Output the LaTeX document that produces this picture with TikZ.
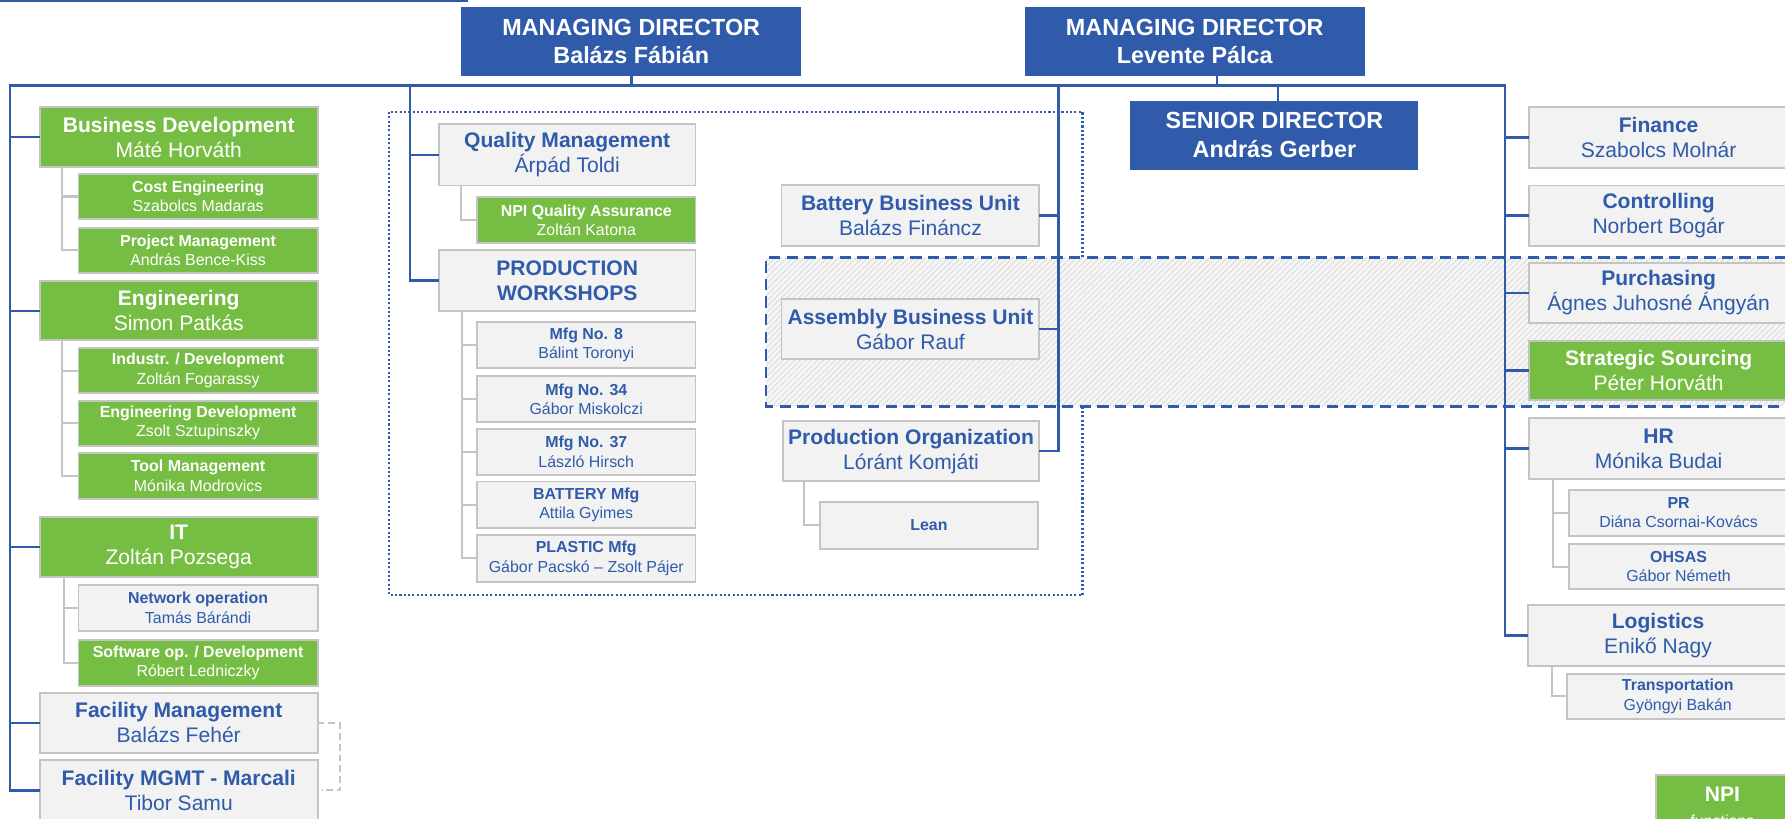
\documentclass[tikz,border=0pt]{standalone}
\usepackage{fontspec}
\setmainfont{Liberation Sans}
\usetikzlibrary{patterns.meta}
\definecolor{nblue}{RGB}{47,91,170}
\definecolor{ngreen}{RGB}{118,189,67}
\definecolor{bgray}{RGB}{242,242,242}
\definecolor{lgray}{RGB}{196,196,196}
\definecolor{hatchbg}{RGB}{246,246,246}
\definecolor{hatchln}{RGB}{220,220,220}
\tikzset{
  every node/.style={inner sep=0pt, outer sep=0pt, align=center},
  bigf/.style={font=\fontsize{18.5}{22}\selectfont},
  smallf/.style={font=\fontsize{14}{17}\selectfont},
  gbox/.style={draw=lgray, line width=1.6pt, fill=ngreen, text=white},
  wbox/.style={draw=lgray, line width=1.6pt, fill=bgray, text=nblue},
  dbox/.style={fill=nblue, text=white, font=\fontsize{20.5}{25}\selectfont\bfseries},
  trunk/.style={draw=nblue, line width=2.2pt},
  twig/.style={draw=lgray, line width=1.8pt},
  bracket/.style={draw=lgray, line width=1.8pt, dash pattern=on 6pt off 3.5pt},
  dotbox/.style={draw=nblue, line width=2pt, dash pattern=on 1.8pt off 2pt},
  dashbox/.style={draw=nblue, line width=2.2pt, dash pattern=on 10pt off 5.5pt},
}
\newcommand\bx[7]{%
  \node[#2, minimum width={#5-#3}, minimum height={#6-#4}] (#1) at ({(#3+#5)/2},{(#4+#6)/2}) {#7};}
\begin{document}
\begin{tikzpicture}[x=1pt,y=-1pt]
\useasboundingbox (0,0) rectangle (1568,719);
\clip (0,0) rectangle (1568,719);
% background frames
\draw[nblue, line width=1.5pt] (0,0.8) -- (410.8,0.8);
\draw[dotbox] (342,98.4) rectangle (951,522.7);
\fill[hatchbg] (673,226.4) rectangle (1600,357);
\fill[pattern={Lines[angle=45,distance=3.6pt,line width=0.8pt]}, pattern color=hatchln] (673,226.4) rectangle (1600,357);
\draw[dashbox] (1600,226.4) -- (673,226.4) -- (673,357) -- (1600,357);
% directors
\bx{md1}{dbox}{405}{6.5}{704}{66.8}{MANAGING DIRECTOR\\Balázs Fábián}
\bx{md2}{dbox}{900}{6.5}{1199}{66.8}{MANAGING DIRECTOR\\Levente Pálca}
\bx{sd}{dbox}{993}{88.5}{1246}{149}{SENIOR DIRECTOR\\András Gerber}
% left column
\bx{bd}{gbox,bigf}{35}{94}{279}{147}{\textbf{Business Development}\\Máté Horváth}
\bx{ce}{gbox,smallf}{69}{152.6}{279}{192.6}{\textbf{Cost Engineering}\\Szabolcs Madaras}
\bx{pm}{gbox,smallf}{69}{200}{279}{240}{\textbf{Project Management}\\András Bence-Kiss}
\bx{eng}{gbox,bigf}{35}{247}{279}{299}{\textbf{Engineering}\\Simon Patkás}
\bx{ind}{gbox,smallf}{69}{306}{279}{345}{\textbf{Industr. / Development}\\Zoltán Fogarassy}
\bx{ed}{gbox,smallf}{69}{352}{279}{391.5}{\textbf{Engineering Development}\\Zsolt Sztupinszky}
\bx{tm}{gbox,smallf}{69}{398}{279}{438}{\textbf{Tool Management}\\Mónika Modrovics}
\bx{it}{gbox,bigf}{35}{454}{279}{507}{\textbf{IT}\\Zoltán Pozsega}
\bx{no}{wbox,smallf}{69}{514}{279}{554}{\textbf{Network operation}\\Tamás Bárándi}
\bx{so}{gbox,smallf}{69}{562}{279}{602.5}{\textbf{Software op. / Development}\\Róbert Ledniczky}
\bx{fm}{wbox,bigf}{35}{608.5}{279}{661.6}{\textbf{Facility Management}\\Balázs Fehér}
\bx{fmm}{wbox,bigf}{35}{667.6}{279}{721}{\textbf{Facility MGMT - Marcali}\\Tibor Samu}
% middle
\bx{qm}{wbox,bigf}{385.5}{109}{611}{163}{\textbf{Quality Management}\\Árpád Toldi}
\bx{npiqa}{gbox,smallf}{419}{173}{611}{213.6}{\textbf{NPI Quality Assurance}\\Zoltán Katona}
\bx{pw}{wbox,bigf}{385.5}{219.8}{611}{273}{\textbf{PRODUCTION}\\\textbf{WORKSHOPS}}
\bx{m8}{wbox,smallf}{419}{283}{611}{323}{\textbf{Mfg No. 8}\\Bálint Toronyi}
\bx{m34}{wbox,smallf}{419}{330.5}{611}{371}{\textbf{Mfg No. 34}\\Gábor Miskolczi}
\bx{m37}{wbox,smallf}{419}{377}{611}{417}{\textbf{Mfg No. 37}\\László Hirsch}
\bx{bat}{wbox,smallf}{419}{423}{611}{463.5}{\textbf{BATTERY Mfg}\\Attila Gyimes}
\bx{pla}{wbox,smallf}{419}{470}{611}{511}{\textbf{PLASTIC Mfg}\\Gábor Pacskó – Zsolt Pájer}
\bx{bbu}{wbox,bigf}{686.5}{162.5}{913}{216}{\textbf{Battery Business Unit}\\Balázs Fináncz}
\bx{abu}{wbox,bigf}{686.5}{262.7}{913}{315.4}{\textbf{Assembly Business Unit}\\Gábor Rauf}
\bx{po}{wbox,bigf}{687.5}{370}{913}{422.5}{\textbf{Production Organization}\\Lóránt Komjáti}
\bx{lean}{wbox,smallf}{720}{441}{912}{482}{\textbf{Lean}}
% right column
\bx{fin}{wbox,bigf}{1343}{94}{1571}{147.5}{\textbf{Finance}\\Szabolcs Molnár}
\bx{ctl}{wbox,bigf}{1343}{163}{1571}{216}{\textbf{Controlling}\\Norbert Bogár}
\bx{pur}{wbox,bigf}{1343}{231}{1571}{283.7}{\textbf{Purchasing}\\Ágnes Juhosné Ángyán}
\bx{ss}{gbox,bigf}{1343}{299.5}{1571}{351.4}{\textbf{Strategic Sourcing}\\Péter Horváth}
\bx{hr}{wbox,bigf}{1343}{367}{1571}{420.8}{\textbf{HR}\\Mónika Budai}
\bx{pr}{wbox,smallf}{1378}{430.4}{1571}{470.5}{\textbf{PR}\\Diána Csornai-Kovács}
\bx{oh}{wbox,smallf}{1378}{478}{1571}{517.4}{\textbf{OHSAS}\\Gábor Németh}
\bx{log}{wbox,bigf}{1342}{531.5}{1571}{584.7}{\textbf{Logistics}\\Enikő Nagy}
\bx{tr}{wbox,smallf}{1376.5}{591.8}{1571}{631.6}{\textbf{Transportation}\\Gyöngyi Bakán}
\bx{npi}{gbox,bigf}{1455}{681}{1571}{736}{\textbf{NPI}\\{\fontsize{14}{17}\selectfont functions}}
% blue connectors
\coordinate (L) at (9,75);
\coordinate (R) at (1322,75);
\coordinate (Q) at (360,75);
\coordinate (B) at (930,75);
\draw[trunk] (fmm.west) -| (L) -- (R) |- (log.west);
\draw[trunk] (md1.south) -- (md1.south |- L);
\draw[trunk] ([xshift=19.5pt]md2.south) -- ([xshift=19.5pt]md2.south |- R);
\draw[trunk] ([xshift=3pt]sd.north) -- ([xshift=3pt]sd.north |- R);
\foreach \n in {bd,eng,it,fm} \draw[trunk] (L |- \n.west) -- (\n.west);
\draw[trunk] (Q) |- (pw.west);
\draw[trunk] (Q |- qm.west) -- (qm.west);
\draw[trunk] (B) |- (po.east);
\foreach \n in {bbu,abu} \draw[trunk] (B |- \n.east) -- (\n.east);
\foreach \n in {fin,ctl,pur,ss,hr} \draw[trunk] (R |- \n.west) -- (\n.west);
% grey connectors
\coordinate (bdv) at ([xshift=19.5pt]bd.south west);
\draw[twig] (bdv) |- (pm.west);
\draw[twig] (bdv |- ce.west) -- (ce.west);
\coordinate (engv) at ([xshift=19.7pt]eng.south west);
\draw[twig] (engv) |- (tm.west);
\foreach \n in {ind,ed} \draw[twig] (engv |- \n.west) -- (\n.west);
\coordinate (itv) at ([xshift=21pt]it.south west);
\draw[twig] (itv) |- (so.west);
\draw[twig] (itv |- no.west) -- (no.west);
\coordinate (qmv) at ([xshift=19.3pt]qm.south west);
\draw[twig] (qmv) |- (npiqa.west);
\coordinate (pwv) at ([xshift=20.5pt]pw.south west);
\draw[twig] (pwv) |- (pla.west);
\foreach \n in {m8,m34,m37,bat} \draw[twig] (pwv |- \n.west) -- (\n.west);
\coordinate (pov) at ([xshift=19pt]po.south west);
\draw[twig] (pov) |- (lean.west);
\coordinate (hrv) at ([xshift=21pt]hr.south west);
\draw[twig] (hrv) |- (oh.west);
\draw[twig] (hrv |- pr.west) -- (pr.west);
\coordinate (logv) at ([xshift=21pt]log.south west);
\draw[twig] (logv) |- (tr.west);
% dashed bracket between facility boxes
\coordinate (brk) at (298.7,0);
\draw[bracket] (fm.east) -- (fm.east -| brk) -- (fmm.east -| brk) -- ([xshift=3.5pt]fmm.east);
\end{tikzpicture}
\end{document}
